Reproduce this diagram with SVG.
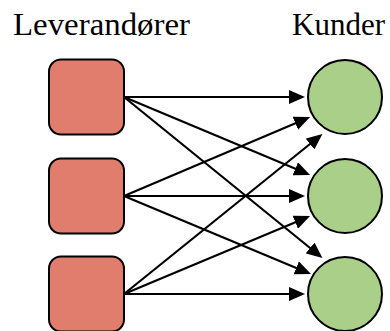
<svg xmlns="http://www.w3.org/2000/svg" width="390" height="331" viewBox="0 0 390 331">
<style>
.lbl{font-family:"Liberation Serif","Times New Roman",serif;font-size:31px;fill:#000}
.sup{fill:#E07D6D;stroke:#000;stroke-width:2}
.cus{fill:#A9CF88;stroke:#000;stroke-width:2}
.edge{stroke:#000;stroke-width:2.2;fill:none;marker-end:url(#arr)}
</style>
<defs>
<marker id="arr" markerUnits="userSpaceOnUse" markerWidth="16" markerHeight="14" refX="4" refY="7" orient="auto" viewBox="0 0 16 14">
<path d="M0,0 L16,7 L0,14 z" fill="#000"/>
</marker>
</defs>
<rect width="390" height="331" fill="#fff"/>
<text class="lbl" x="13" y="35" textLength="177" lengthAdjust="spacingAndGlyphs">Leverandører</text>
<text class="lbl" x="292" y="35">Kunder</text>
<g id="connectors">
<line class="edge" x1="124" y1="97" x2="293" y2="97"/>
<line class="edge" x1="124" y1="97" x2="299" y2="170.3"/>
<line class="edge" x1="124" y1="97" x2="313.2" y2="250.5"/>
<line class="edge" x1="124" y1="196" x2="299" y2="121.7"/>
<line class="edge" x1="124" y1="196" x2="293" y2="196"/>
<line class="edge" x1="124" y1="196" x2="299.9" y2="269.4"/>
<line class="edge" x1="124" y1="294" x2="313.1" y2="141.5"/>
<line class="edge" x1="124" y1="294" x2="299" y2="220.7"/>
<line class="edge" x1="124" y1="294" x2="293" y2="294"/>
</g>
<g id="supplier1"><rect class="sup" x="49" y="59.5" width="75" height="75" rx="12"/></g>
<g id="supplier2"><rect class="sup" x="49" y="158.5" width="75" height="75" rx="12"/></g>
<g id="supplier3"><rect class="sup" x="49" y="256.5" width="75" height="75" rx="12"/></g>
<g id="customer1"><circle class="cus" cx="345" cy="97" r="37"/></g>
<g id="customer2"><circle class="cus" cx="345" cy="196" r="37"/></g>
<g id="customer3"><circle class="cus" cx="345" cy="294" r="37"/></g>
</svg>
